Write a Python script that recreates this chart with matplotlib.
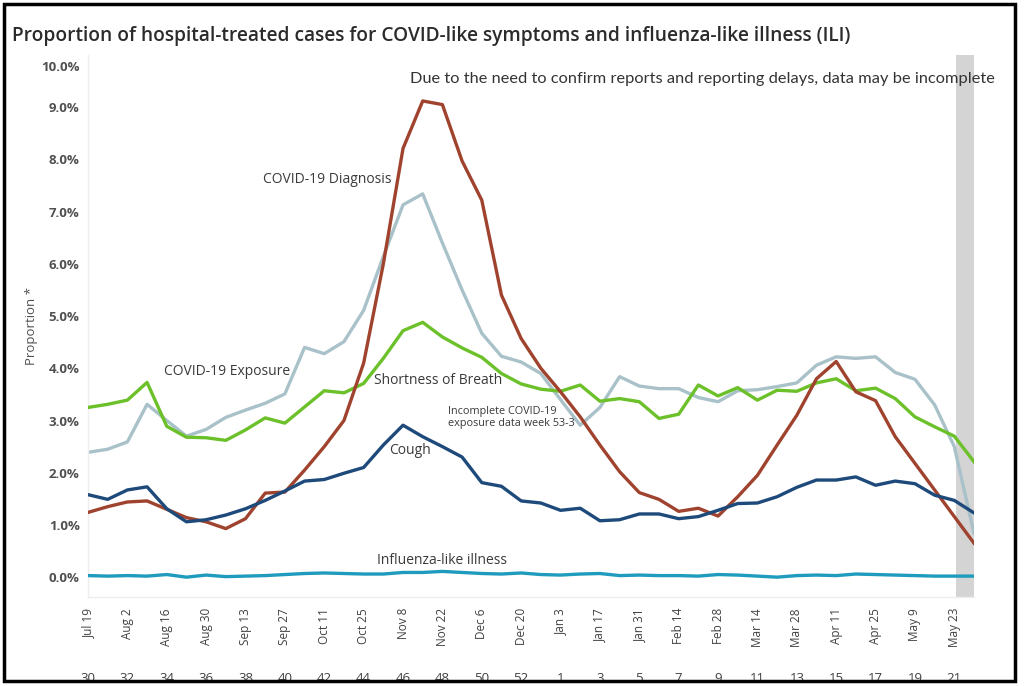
import matplotlib
matplotlib.use("Agg")
import matplotlib.pyplot as plt
import matplotlib.transforms as mtransforms
from matplotlib.patches import Rectangle

# Weekly proportions (%) of hospital-treated cases, week 30 (Jul 19) to week 22 (May 30)
diagnosis = [1.24, 1.35, 1.44, 1.46, 1.30, 1.14, 1.06, 0.93, 1.12, 1.61,
             1.63, 2.05, 2.50, 3.00, 4.10, 6.00, 8.21, 9.12, 9.05, 7.97,
             7.22, 5.40, 4.57, 4.00, 3.55, 3.07, 2.53, 2.02, 1.62, 1.49,
             1.26, 1.32, 1.17, 1.54, 1.95, 2.53, 3.10, 3.80, 4.13, 3.55,
             3.38, 2.69, 2.18, 1.67, 1.16, 0.65]
exposure = [2.39, 2.45, 2.59, 3.31, 3.00, 2.70, 2.83, 3.06, 3.20, 3.33,
            3.51, 4.40, 4.28, 4.51, 5.11, 6.14, 7.13, 7.34, 6.40, 5.50,
            4.67, 4.23, 4.12, 3.90, 3.40, 2.91, 3.25, 3.84, 3.66, 3.61,
            3.61, 3.44, 3.36, 3.57, 3.59, 3.65, 3.72, 4.06, 4.22, 4.19,
            4.22, 3.92, 3.79, 3.30, 2.50, 0.84]
breath = [3.25, 3.31, 3.39, 3.73, 2.89, 2.68, 2.67, 2.62, 2.82, 3.05,
          2.95, 3.26, 3.57, 3.53, 3.71, 4.19, 4.72, 4.88, 4.60, 4.39,
          4.21, 3.90, 3.70, 3.60, 3.56, 3.68, 3.37, 3.42, 3.36, 3.04,
          3.12, 3.68, 3.47, 3.63, 3.39, 3.58, 3.56, 3.72, 3.80, 3.57,
          3.62, 3.42, 3.07, 2.88, 2.70, 2.21]
cough = [1.58, 1.49, 1.67, 1.73, 1.31, 1.06, 1.10, 1.19, 1.31, 1.47,
         1.65, 1.84, 1.87, 1.99, 2.10, 2.53, 2.91, 2.69, 2.50, 2.30,
         1.81, 1.74, 1.46, 1.42, 1.28, 1.32, 1.08, 1.10, 1.21, 1.21,
         1.12, 1.16, 1.28, 1.41, 1.42, 1.54, 1.72, 1.86, 1.86, 1.92,
         1.76, 1.84, 1.79, 1.57, 1.47, 1.23]
ili = [0.03, 0.02, 0.03, 0.02, 0.05, 0.00, 0.04, 0.01, 0.02, 0.03,
       0.05, 0.07, 0.08, 0.07, 0.06, 0.06, 0.09, 0.09, 0.11, 0.09,
       0.07, 0.06, 0.08, 0.05, 0.04, 0.06, 0.07, 0.03, 0.04, 0.03,
       0.03, 0.02, 0.05, 0.04, 0.02, 0.00, 0.03, 0.04, 0.03, 0.06,
       0.05, 0.04, 0.03, 0.02, 0.02, 0.02]

date_labels = ["Jul 19", "Aug 2", "Aug 16", "Aug 30", "Sep 13", "Sep 27",
               "Oct 11", "Oct 25", "Nov 8", "Nov 22", "Dec 6", "Dec 20",
               "Jan 3", "Jan 17", "Jan 31", "Feb 14", "Feb 28", "Mar 14",
               "Mar 28", "Apr 11", "Apr 25", "May 9", "May 23"]
week_numbers = [30, 32, 34, 36, 38, 40, 42, 44, 46, 48, 50, 52,
                1, 3, 5, 7, 9, 11, 13, 15, 17, 19, 21]

weeks = list(range(len(diagnosis)))
tick_pos = weeks[::2]

fig = plt.figure(figsize=(10.24, 6.86), dpi=100)
ax = fig.add_axes([88 / 1024, 1 - 597 / 686, 886 / 1024, 542 / 686])

# incomplete-data band for the latest week
ax.axvspan(44.1, 45, color="#d4d4d4", lw=0, zorder=0)

lw = 2.4
ax.plot(weeks, exposure, color="#a9c1c9", lw=lw, zorder=2)
ax.plot(weeks, breath, color="#6cc12a", lw=lw, zorder=3)
ax.plot(weeks, diagnosis, color="#a0432e", lw=lw, zorder=4)
ax.plot(weeks, cough, color="#1d4a7a", lw=lw, zorder=5)
ax.plot(weeks, ili, color="#1f9bbd", lw=lw, zorder=5)

ax.set_xlim(0, 45)
ax.set_ylim(-0.38, 10.0)
ax.set_yticks(range(0, 11))
ax.set_yticklabels([f"{v:.1f}%" for v in range(0, 11)], fontsize=9.5,
                   fontweight="bold", color="#505050", family="Open Sans")
ax.set_xticks(tick_pos)
ax.set_xticklabels(date_labels, rotation=90, fontsize=8.5, color="#404040",
                   family="Open Sans")
ax.tick_params(axis="both", length=0, pad=6)
ax.tick_params(axis="x", pad=8)
for side in ["top", "right"]:
    ax.spines[side].set_visible(False)
for side in ["left", "bottom"]:
    ax.spines[side].set_color("#eeeeee")
    ax.spines[side].set_linewidth(1)

# top tick label sits a little lower, inside the frame
top_lab = ax.get_yticklabels()[-1]
top_lab.set_transform(top_lab.get_transform() +
                      mtransforms.ScaledTranslation(0, -0.11, fig.dpi_scale_trans))

ax.set_ylabel("Proportion *", fontsize=9.5, color="#505050", family="Open Sans",
              labelpad=2)

# week numbers under the dates
trans = mtransforms.blended_transform_factory(ax.transData, fig.transFigure)
for pos, wk in zip(tick_pos, week_numbers):
    ax.text(pos, 1 - 679 / 686, str(wk), transform=trans, ha="center",
            va="center", fontsize=9.5, color="#404040", family="Open Sans",
            clip_on=False)

# series labels
lab = dict(fontsize=10, color="#3a3a3a", family="Open Sans", zorder=6)
ax.text(12.15, 7.62, "COVID-19 Diagnosis", ha="center", va="center", **lab)
ax.text(7.06, 3.93, "COVID-19 Exposure", ha="center", va="center", **lab)
ax.text(17.8, 3.77, "Shortness of Breath", ha="center", va="center", **lab)
ax.text(16.35, 2.43, "Cough", ha="center", va="center", **lab)
ax.text(18.0, 0.31, "Influenza-like illness", ha="center", va="center", **lab)
ax.text(18.3, 3.05, "Incomplete COVID-19\nexposure data week 53-3", ha="left",
        va="center", fontsize=7.8, color="#3a3a3a", family="Open Sans",
        linespacing=1.15, zorder=6)

fig.text(995 / 1024, 1 - 79 / 686,
         "Due to the need to confirm reports and reporting delays, data may be incomplete",
         ha="right", va="center", fontsize=11.75, color="#333333", family="Lato",
         zorder=6)

fig.text(12 / 1024, 1 - 36 / 686,
         "Proportion of hospital-treated cases for COVID-like symptoms and influenza-like illness (ILI)",
         ha="left", va="center", fontsize=13.75, fontweight="semibold",
         color="#2b2b2b", family="Open Sans")

# white strip and frame around the figure
fig.patches.append(Rectangle((0, 0), 1, 6 / 686, transform=fig.transFigure,
                             facecolor="white", edgecolor="none", zorder=10))
fig.patches.append(Rectangle((4 / 1024, 5 / 686), 1011 / 1024, 677 / 686,
                             transform=fig.transFigure, facecolor="none",
                             edgecolor="black", lw=2.5, zorder=11))

fig.savefig("out.png", dpi=100)
